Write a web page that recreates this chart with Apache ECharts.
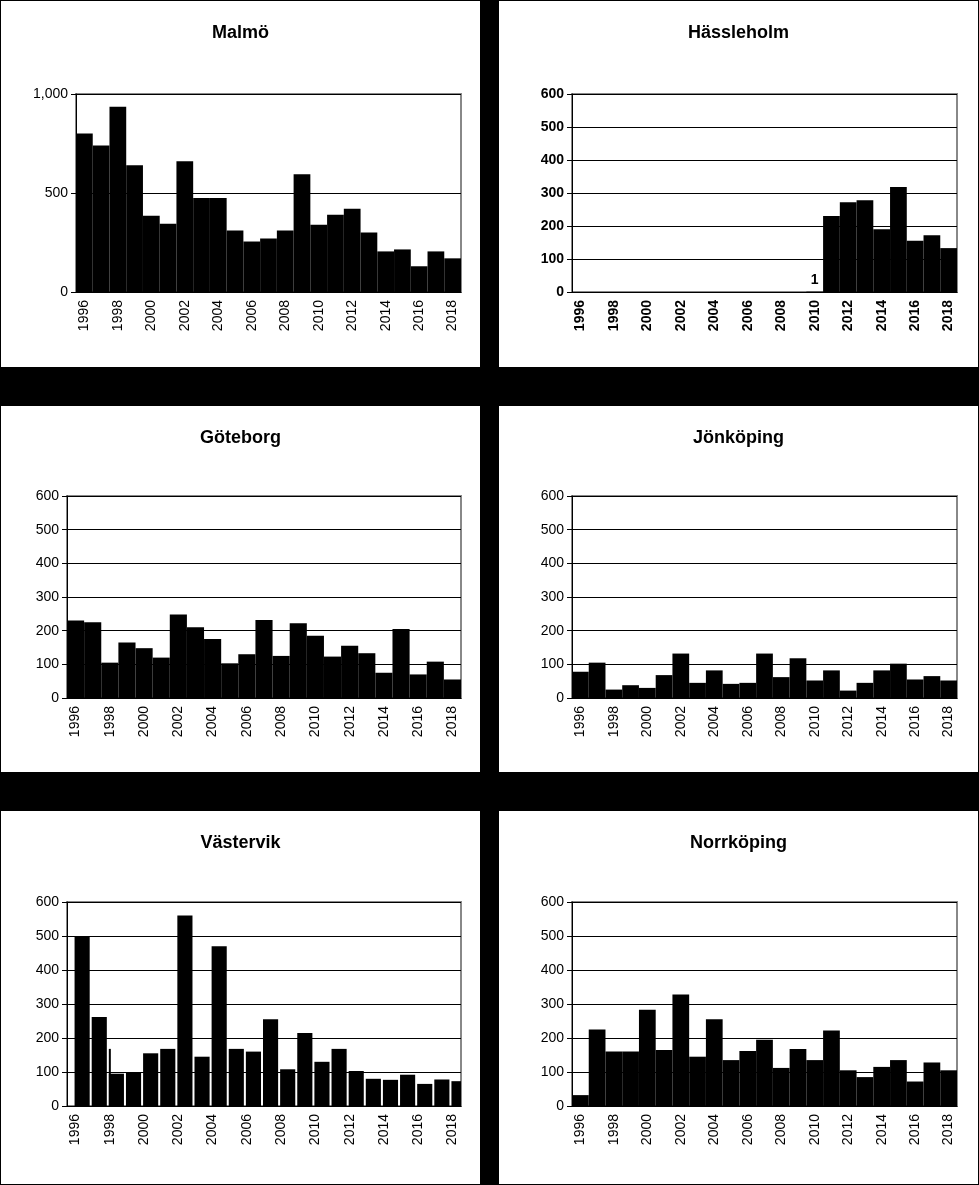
<!DOCTYPE html>
<html><head><meta charset="utf-8">
<script src="https://cdn.jsdelivr.net/npm/echarts@6/dist/echarts.min.js"></script>
<style>
body{margin:0;background:#000;width:979px;height:1185px;position:relative;overflow:hidden}
.p{position:absolute;background:#fff}
</style></head><body>
<div class="p" id="c0" style="left:1px;top:1px;width:479px;height:366px"></div>
<div class="p" id="c1" style="left:499px;top:1px;width:479px;height:366px"></div>
<div class="p" id="c2" style="left:1px;top:406px;width:479px;height:366px"></div>
<div class="p" id="c3" style="left:499px;top:406px;width:479px;height:366px"></div>
<div class="p" id="c4" style="left:1px;top:811px;width:479px;height:373px"></div>
<div class="p" id="c5" style="left:499px;top:811px;width:479px;height:373px"></div>
<script>
var years = [];
for (var y = 1996; y <= 2018; y++) years.push(String(y));

var malmo = [800,740,935,640,385,345,660,475,475,310,255,270,310,595,340,390,420,300,205,215,130,205,170];
var hassleholm = [0,0,0,0,0,0,0,0,0,0,0,0,0,0,1,230,272,278,190,318,155,172,133];
var goteborg = [230,225,105,165,148,120,248,210,175,103,130,232,125,222,185,123,155,133,75,205,70,108,55];
var jonkoping = [78,105,25,38,30,68,132,45,82,42,45,132,62,118,52,82,22,45,82,102,55,65,52];
var vastervik = [500,262,95,100,155,168,560,145,470,168,160,255,108,215,130,168,103,80,77,92,65,78,73];
var vastervikSpike = [null,null,168,null,null,null,null,null,null,null,null,null,null,null,null,null,null,null,null,null,null,null,null];
var norrkoping = [32,225,160,160,283,165,328,145,255,135,162,195,112,168,135,222,105,85,115,135,72,128,105];

function make(id, title, data, opt) {
  var c = echarts.init(document.getElementById(id));
  var series = [{
    type: 'bar', data: data, barCategoryGap: '0%', barGap: '-100%',
    itemStyle: {color: '#000'}, silent: true,
    label: opt.label ? {show: true, position: 'top', fontFamily: 'Arial', fontWeight: 'bold', fontSize: 14, color: '#000',
      formatter: function (p) { return p.value === 1 ? '1' : ''; }} : {show: false}
  }];
  if (opt.spike) series.push({type: 'bar', data: opt.spike, barWidth: 2, barGap: '-100%', itemStyle: {color: '#000'}});
  c.setOption({
    animation: false,
    title: {text: title, left: 'center', top: 18, textStyle: {fontFamily: 'Arial', fontWeight: 'bold', fontSize: 18, color: '#000'}},
    grid: {left: opt.left, right: opt.right, top: opt.top, height: opt.h, show: true, borderColor: '#888', borderWidth: 2},
    xAxis: {type: 'category', data: years,
      axisLine: {lineStyle: {color: '#000'}}, axisTick: {interval: 0, alignWithLabel: false, lineStyle: {color: '#000'}},
      axisLabel: {interval: 1, rotate: 90, fontFamily: 'Arial', fontSize: 14, color: '#000', fontWeight: opt.bold ? 'bold' : 'normal'}},
    yAxis: {type: 'value', min: 0, max: opt.max, interval: opt.step,
      axisLine: {show: true, lineStyle: {color: '#000'}}, axisTick: {show: true, lineStyle: {color: '#000'}},
      splitLine: {lineStyle: {color: '#000'}},
      axisLabel: {fontFamily: 'Arial', fontSize: 14, color: '#000', fontWeight: opt.bold ? 'bold' : 'normal'}},
    series: series
  });
}
make('c0', 'Malmö', malmo, {left: 75, right: 19, top: 93, h: 198, max: 1000, step: 500});
make('c1', 'Hässleholm', hassleholm, {left: 73, right: 21, top: 93, h: 198, max: 600, step: 100, bold: true, label: true});
make('c2', 'Göteborg', goteborg, {left: 66, right: 19, top: 90, h: 202, max: 600, step: 100});
make('c3', 'Jönköping', jonkoping, {left: 73, right: 21, top: 90, h: 202, max: 600, step: 100});
make('c4', 'Västervik', vastervik, {left: 66, right: 19, top: 91, h: 204, max: 600, step: 100, spike: vastervikSpike});
make('c5', 'Norrköping', norrkoping, {left: 73, right: 21, top: 91, h: 204, max: 600, step: 100});
</script>
</body></html>
